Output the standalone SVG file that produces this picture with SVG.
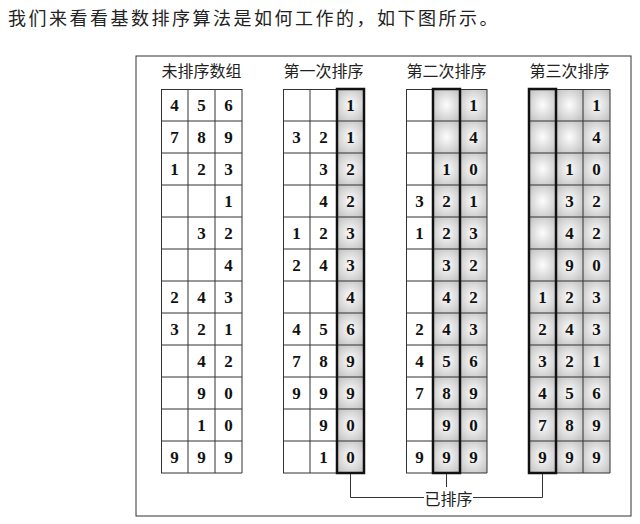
<svg xmlns="http://www.w3.org/2000/svg" xmlns:xlink="http://www.w3.org/1999/xlink" width="640" height="524" viewBox="0 0 640 524">
<style>
.cap{font-family:"Noto Sans CJK SC","Noto Sans",sans-serif;font-size:18px;fill:#222;letter-spacing:2.5px}
.hd{font-family:"Noto Sans CJK SC","Noto Sans",sans-serif;font-size:16px;fill:#222;text-anchor:middle}
.d{font-family:"Liberation Serif","Times New Roman",serif;font-weight:bold;font-size:17px;fill:#111;text-anchor:middle}
.grid{fill:none;stroke:#333;stroke-width:1}
.sel{fill:none;stroke:#111;stroke-width:2.5}
.con{fill:none;stroke:#333;stroke-width:1}
</style>
<defs>
<radialGradient id="cellg" cx="50%" cy="50%" r="62%">
<stop offset="0" stop-color="#fdfdfd"/>
<stop offset="1" stop-color="#c4c4c4"/>
</radialGradient>
<pattern id="cells" patternUnits="userSpaceOnUse" x="0" y="0" width="27" height="32">
<rect width="27" height="32" fill="url(#cellg)"/>
</pattern>
<path id="lines" class="grid" d="M0.5 0V384M27 0V384M54 0V384M81 0V384M0 0.5H81M0 32H81M0 64H81M0 96H81M0 128H81M0 160H81M0 192H81M0 224H81M0 256H81M0 288H81M0 320H81M0 352H81M0 384H81"/>
</defs>
<rect width="640" height="524" fill="#fff"/>
<text class="cap" x="8" y="25">我们来看看基数排序算法是如何工作的，如下图所示。</text>
<rect id="frame" x="136" y="56" width="495" height="460" fill="none" stroke="#333" stroke-width="1"/>

<g id="unsorted" transform="translate(161,89)">
<text class="hd" x="40.5" y="-12">未排序数组</text>
<use xlink:href="#lines"/>
<text class="d" x="13.5 40.5 67.5" y="22">456</text>
<text class="d" x="13.5 40.5 67.5" y="54">789</text>
<text class="d" x="13.5 40.5 67.5" y="86">123</text>
<text class="d" x="67.5" y="118">1</text>
<text class="d" x="40.5 67.5" y="150">32</text>
<text class="d" x="67.5" y="182">4</text>
<text class="d" x="13.5 40.5 67.5" y="214">243</text>
<text class="d" x="13.5 40.5 67.5" y="246">321</text>
<text class="d" x="40.5 67.5" y="278">42</text>
<text class="d" x="40.5 67.5" y="310">90</text>
<text class="d" x="40.5 67.5" y="342">10</text>
<text class="d" x="13.5 40.5 67.5" y="374">999</text>
</g>

<g id="pass1" transform="translate(283,89)">
<text class="hd" x="40.5" y="-12">第一次排序</text>
<rect x="54" y="0" width="27" height="384" fill="url(#cells)"/>
<use xlink:href="#lines"/>
<rect class="sel" x="54" y="0" width="27" height="384"/>
<text class="d" x="67.5" y="22">1</text>
<text class="d" x="13.5 40.5 67.5" y="54">321</text>
<text class="d" x="40.5 67.5" y="86">32</text>
<text class="d" x="40.5 67.5" y="118">42</text>
<text class="d" x="13.5 40.5 67.5" y="150">123</text>
<text class="d" x="13.5 40.5 67.5" y="182">243</text>
<text class="d" x="67.5" y="214">4</text>
<text class="d" x="13.5 40.5 67.5" y="246">456</text>
<text class="d" x="13.5 40.5 67.5" y="278">789</text>
<text class="d" x="13.5 40.5 67.5" y="310">999</text>
<text class="d" x="40.5 67.5" y="342">90</text>
<text class="d" x="40.5 67.5" y="374">10</text>
</g>

<g id="pass2" transform="translate(406,89)">
<text class="hd" x="40.5" y="-12">第二次排序</text>
<rect x="27" y="0" width="54" height="384" fill="url(#cells)"/>
<use xlink:href="#lines"/>
<rect class="sel" x="27" y="0" width="27" height="384"/>
<text class="d" x="67.5" y="22">1</text>
<text class="d" x="67.5" y="54">4</text>
<text class="d" x="40.5 67.5" y="86">10</text>
<text class="d" x="13.5 40.5 67.5" y="118">321</text>
<text class="d" x="13.5 40.5 67.5" y="150">123</text>
<text class="d" x="40.5 67.5" y="182">32</text>
<text class="d" x="40.5 67.5" y="214">42</text>
<text class="d" x="13.5 40.5 67.5" y="246">243</text>
<text class="d" x="13.5 40.5 67.5" y="278">456</text>
<text class="d" x="13.5 40.5 67.5" y="310">789</text>
<text class="d" x="40.5 67.5" y="342">90</text>
<text class="d" x="13.5 40.5 67.5" y="374">999</text>
</g>

<g id="pass3" transform="translate(529,89)">
<text class="hd" x="40.5" y="-12">第三次排序</text>
<rect x="0" y="0" width="81" height="384" fill="url(#cells)"/>
<use xlink:href="#lines"/>
<rect class="sel" x="0" y="0" width="27" height="384"/>
<text class="d" x="67.5" y="22">1</text>
<text class="d" x="67.5" y="54">4</text>
<text class="d" x="40.5 67.5" y="86">10</text>
<text class="d" x="40.5 67.5" y="118">32</text>
<text class="d" x="40.5 67.5" y="150">42</text>
<text class="d" x="40.5 67.5" y="182">90</text>
<text class="d" x="13.5 40.5 67.5" y="214">123</text>
<text class="d" x="13.5 40.5 67.5" y="246">243</text>
<text class="d" x="13.5 40.5 67.5" y="278">321</text>
<text class="d" x="13.5 40.5 67.5" y="310">456</text>
<text class="d" x="13.5 40.5 67.5" y="342">789</text>
<text class="d" x="13.5 40.5 67.5" y="374">999</text>
</g>

<g id="connectors">
<path class="con" d="M350.5 474V497.5H424"/>
<path class="con" d="M473 497.5H542.5V474"/>
<path class="con" d="M446.5 474V487"/>
</g>
<g id="sorted-label">
<text class="hd" x="448.5" y="505">已排序</text>
</g>
</svg>
